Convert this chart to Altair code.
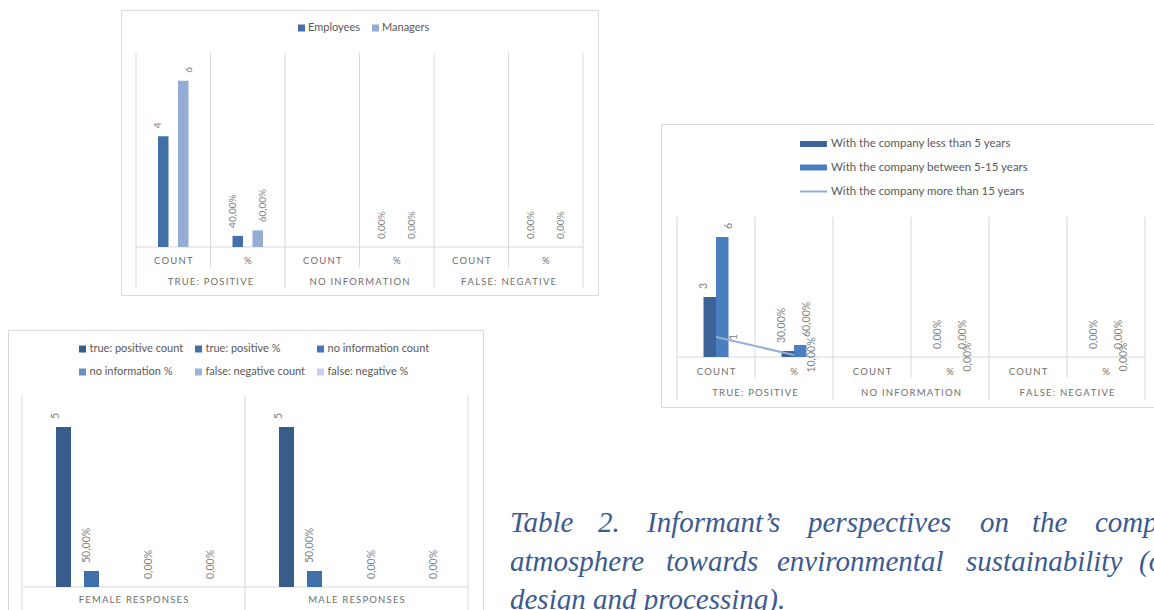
import altair as alt
import pandas as pd

# ---------------- data ----------------
c1_groups = ["TRUE: POSITIVE", "NO INFORMATION", "FALSE: NEGATIVE"]
c1_kinds = ["COUNT", "%"]
c1_series = ["Employees", "Managers"]
c1_employees = [4, 0.40, None, 0.0, None, 0.0]
c1_managers = [6, 0.60, None, 0.0, None, 0.0]

c2_groups = ["TRUE: POSITIVE", "NO INFORMATION", "FALSE: NEGATIVE"]
c2_kinds = ["COUNT", "%"]
c2_bar_series = ["With the company less than 5 years", "With the company between 5-15 years"]
c2_line_series = ["With the company more than 15 years"]
c2_less5 = [3, 0.30, None, 0.0, None, 0.0]
c2_5to15 = [6, 0.60, None, 0.0, None, 0.0]
c2_more15 = [1, 0.10, None, 0.0, None, 0.0]

c3_categories = ["FEMALE RESPONSES", "MALE RESPONSES"]
c3_series = ["true: positive count", "true: positive %", "no information count",
             "no information %", "false: negative count", "false: negative %"]
c3_female = [5, 0.50, None, 0.0, None, 0.0]
c3_male = [5, 0.50, None, 0.0, None, 0.0]

caption_line1 = ["Table", "2.", "Informant\u2019s", "perspectives", "on", "the", "company\u2019s"]
caption_line2 = ["atmosphere", "towards", "environmental", "sustainability", "(own"]
caption_line3 = ["design and processing)."]

# ---------------- layout / style ----------------
W, H = 1154, 610
FONT = "Lato"
GRID = "#d9d9d9"
LABEL_GRAY = "#7f7f7f"
AXIS_GRAY = "#6e6e6e"
LEGEND_GRAY = "#595959"
c1_colors = ["#4470a8", "#95acd4"]
c2_colors = ["#3d6499", "#4a7ec0"]
c2_line_color = "#95acd6"
c3_colors = ["#385d8a", "#4070aa", "#4677b8", "#6a8fc8", "#9db3d8", "#c5d2e9"]
caption_x = [[510, 598, 647, 808, 980, 1032, 1095], [510, 666, 777, 966, 1139], [510]]
caption_y = [532, 571, 609]

LABEL_EXPR = ("indexof(datum.series, '%') >= 0 || datum.kind == '%' ? "
              "replace(format(datum.value, '.2%'), '.', ',') : format(datum.value, 'd')")


def spaced(s):
    return "\u2009".join(s)


def keys(groups, kinds):
    return [f"{g}|{k}" for g in groups for k in kinds]


def long_df(cats, series, values):
    rows = []
    for s, vals in zip(series, values):
        for c, v in zip(cats, vals):
            kind = c.split("|")[1] if "|" in c else ""
            rows.append(dict(cat=c, kind=kind, series=s, value=v))
    return pd.DataFrame(rows)


def X(xs, **kw):
    return alt.X("cat:N", scale=xs, axis=None, **kw)


def bars_labels(df, xs, ys, offs, fill_scale, legend, dx, fsize):
    base = alt.Chart(df).transform_filter("isValid(datum.value)")
    enc = dict(x=X(xs),
               xOffset=alt.XOffset("series:N", scale=offs),
               y=alt.Y("value:Q", scale=ys, axis=None))
    bars = base.mark_bar().encode(
        fill=alt.Fill("series:N", scale=fill_scale, legend=legend), **enc)
    labels = base.transform_calculate(label=LABEL_EXPR).mark_text(
        angle=270, align="left", baseline="middle", dx=dx, font=FONT,
        fontSize=fsize, color=LABEL_GRAY).encode(text="label:N", **enc)
    return [bars, labels]


def vrules(cats, xs, ys, top_val, bottom, band_pos):
    return alt.Chart(pd.DataFrame({"cat": cats})).mark_rule(color=GRID).encode(
        x=X(xs, bandPosition=band_pos),
        y=alt.Y(datum=top_val, scale=ys, axis=None), y2=alt.value(bottom))


def baseline(ys, x0, x1):
    return alt.Chart(pd.DataFrame({"v": [0]})).mark_rule(color=GRID).encode(
        y=alt.Y("v:Q", scale=ys, axis=None), x=alt.value(x0), x2=alt.value(x1))


def grouped_axis(groups, kinds, xs, ys, top_val, kind_y, group_y, inner_bottom, outer_bottom,
                 x0, x1, fsize, half_step):
    cats = keys(groups, kinds)
    kind_df = pd.DataFrame({"cat": cats, "text": [spaced(c.split("|")[1]) for c in cats]})
    group_df = pd.DataFrame({"cat": [f"{g}|{kinds[0]}" for g in groups],
                             "text": [spaced(g) for g in groups]})
    txt = dict(font=FONT, fontSize=fsize, color=AXIS_GRAY, baseline="middle")
    return [
        vrules([f"{g}|{kinds[1]}" for g in groups], xs, ys, top_val, inner_bottom, 0),
        vrules([f"{g}|{kinds[0]}" for g in groups], xs, ys, top_val, outer_bottom, 0),
        vrules([cats[-1]], xs, ys, top_val, outer_bottom, 1),
        baseline(ys, x0, x1),
        alt.Chart(kind_df).mark_text(**txt).encode(
            x=X(xs), y=alt.value(kind_y), text="text:N"),
        alt.Chart(group_df).mark_text(dx=half_step, **txt).encode(
            x=X(xs), y=alt.value(group_y), text="text:N"),
    ]


# ---------------- chart 1 ----------------
k1 = keys(c1_groups, c1_kinds)
df1 = long_df(k1, c1_series, [c1_employees, c1_managers])
xs1 = alt.Scale(domain=k1, range=[136, 583], paddingInner=0, paddingOuter=0)
ys1 = alt.Scale(domain=[0, 7], range=[247, 53], zero=False, nice=False)
off1 = alt.Scale(domain=c1_series, range=[22, 52.5], paddingInner=0.475, paddingOuter=0)
leg1 = alt.Legend(orient="none", legendX=296, legendY=22, direction="horizontal", title=None,
                  symbolType="square", symbolSize=49, symbolStrokeWidth=0, labelFont=FONT,
                  labelFontSize=11, labelColor=LEGEND_GRAY, columnPadding=10, labelOffset=1,
                  padding=0, clipHeight=12)
chart1 = [
    *grouped_axis(c1_groups, c1_kinds, xs1, ys1, 7, 261, 282, 267, 288, 136, 583, 9.5, 37.25),
    *bars_labels(df1, xs1, ys1, off1, alt.Scale(domain=c1_series, range=c1_colors), leg1, 8, 10),
]

# ---------------- chart 2 ----------------
k2 = keys(c2_groups, c2_kinds)
df2 = long_df(k2, c2_bar_series, [c2_less5, c2_5to15])
df2l = long_df(k2, c2_line_series, [c2_more15])
xs2 = alt.Scale(domain=k2, range=[677, 1145], paddingInner=0, paddingOuter=0)
ys2 = alt.Scale(domain=[0, 7], range=[357, 217], zero=False, nice=False)
off2 = alt.Scale(domain=c2_bar_series, range=[26.5, 51.5], paddingInner=0, paddingOuter=0)
leg2 = alt.Legend(orient="none", legendX=800, legendY=137.5, direction="vertical", title=None,
                  symbolType="M-1,-0.22H1V0.22H-1Z", symbolSize=729, symbolStrokeWidth=0,
                  labelFont=FONT, labelFontSize=11.5, labelColor=LEGEND_GRAY, labelOffset=4,
                  rowPadding=10.5, padding=0, clipHeight=13, labelLimit=400)
leg2l = alt.Legend(orient="none", legendX=799, legendY=185, direction="vertical", title=None,
                   symbolType="stroke", symbolSize=729, symbolStrokeWidth=2,
                   labelFont=FONT, labelFontSize=11.5, labelColor=LEGEND_GRAY, labelOffset=3,
                   padding=0, clipHeight=13, labelLimit=400)
line2 = alt.Chart(df2l).mark_line(strokeWidth=2, invalid="break-paths-show-domains").encode(
    x=X(xs2),
    y=alt.Y("value:Q", scale=ys2, axis=None),
    stroke=alt.Stroke("series:N", scale=alt.Scale(domain=c2_line_series, range=[c2_line_color]),
                      legend=leg2l))
line2_labels = alt.Chart(df2l).transform_filter("isValid(datum.value)").transform_calculate(
    label=LABEL_EXPR).mark_text(angle=270, align="center", baseline="middle", dy=18, font=FONT,
                                fontSize=10.5, color=LABEL_GRAY).encode(
    x=X(xs2), y=alt.Y("value:Q", scale=ys2, axis=None), text="label:N")
chart2 = [
    *grouped_axis(c2_groups, c2_kinds, xs2, ys2, 7, 372, 393, 378, 400, 677, 1145, 9.5, 39),
    *bars_labels(df2, xs2, ys2, off2, alt.Scale(domain=c2_bar_series, range=c2_colors), leg2, 8,
                 10.5),
    line2, line2_labels,
]

# ---------------- chart 3 ----------------
df3 = long_df(c3_categories, c3_series, [[c3_female[i], c3_male[i]] for i in range(6)])
xs3 = alt.Scale(domain=c3_categories, range=[22, 468], paddingInner=0, paddingOuter=0)
ys3 = alt.Scale(domain=[0, 6], range=[587, 395], zero=False, nice=False)
off3 = alt.Scale(domain=c3_series, range=[34, 189], paddingInner=0.464, paddingOuter=0)
leg3 = alt.Legend(orient="none", legendX=77, legendY=343, direction="horizontal", columns=3,
                  title=None, symbolType="square", symbolSize=49, symbolStrokeWidth=0,
                  labelFont=FONT, labelFontSize=11, labelColor=LEGEND_GRAY, columnPadding=9,
                  rowPadding=11, labelOffset=1.5, padding=0, clipHeight=12, labelLimit=400)
cat3_df = pd.DataFrame({"cat": c3_categories, "text": [spaced(c) for c in c3_categories]})
chart3 = [
    vrules(c3_categories, xs3, ys3, 6, 620, 0),
    vrules([c3_categories[-1]], xs3, ys3, 6, 620, 1),
    baseline(ys3, 22, 468),
    alt.Chart(cat3_df).mark_text(font=FONT, fontSize=9.5, color=AXIS_GRAY,
                                 baseline="middle").encode(
        x=X(xs3), y=alt.value(600), text="text:N"),
    *bars_labels(df3, xs3, ys3, off3, alt.Scale(domain=c3_series, range=c3_colors), leg3, 8, 10.5),
]

# ---------------- frames & caption ----------------
one = pd.DataFrame({"a": [0]})
frames = [
    alt.Chart(one).mark_rect(fillOpacity=0, stroke=GRID, strokeWidth=1).encode(
        x=alt.value(x0), x2=alt.value(x1), y=alt.value(y0), y2=alt.value(y1))
    for (x0, x1, y0, y1) in [(121.5, 598.5, 10.5, 295.5), (661.5, 1170, 124.5, 407.5),
                             (8.5, 483.5, 330.5, 625)]
]

cap_rows = []
for words, xs_, y_ in zip([caption_line1, caption_line2, caption_line3], caption_x, caption_y):
    for w_, x_ in zip(words, xs_):
        cap_rows.append(dict(word=w_, px=x_, py=y_))
cap_df = pd.DataFrame(cap_rows)
caption = alt.Chart(cap_df).mark_text(
    align="left", baseline="alphabetic", font="Liberation Serif", fontStyle="italic",
    fontSize=29, color="#3b5b92").encode(
    x=alt.X("px:Q", scale=None, axis=None), y=alt.Y("py:Q", scale=None, axis=None),
    text="word:N")

chart = alt.layer(*frames, *chart1, *chart2, *chart3, caption).resolve_scale(
    x="independent", y="independent", xOffset="independent", fill="independent",
    stroke="independent"
).properties(
    width=W, height=H, padding=0, autosize=alt.AutoSizeParams(type="none"),
    background="white"
).configure_view(stroke=None)

chart.save("out.html", embed_options={"renderer": "svg", "actions": False})
